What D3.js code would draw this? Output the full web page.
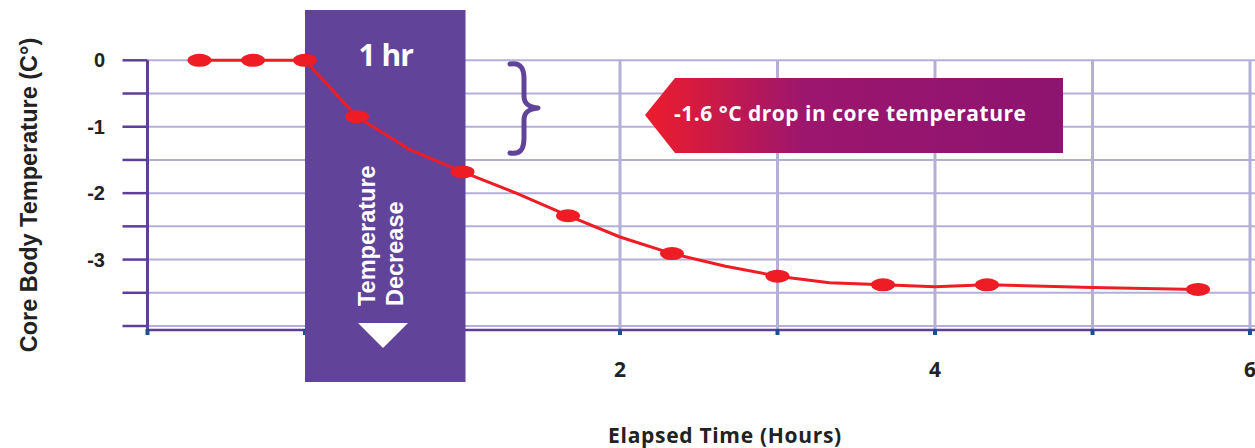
<!DOCTYPE html>
<html>
<head>
<meta charset="utf-8">
<script src="https://cdn.jsdelivr.net/npm/d3@7"></script>
<style>
  html, body { margin: 0; padding: 0; background: #fff; }
  svg { display: block; }
</style>
</head>
<body>
<div id="chart"></div>
<script>
// elapsed time (hours) and change in core temperature (°C)
const hours = [-0.67, -0.33, 0, 0.33, 0.67, 1.0, 1.33, 1.67, 2.0, 2.33, 2.67, 3.0, 3.33, 3.67, 4.0, 4.33, 5.0, 5.67];
const temps = [0, 0, 0, -0.85, -1.35, -1.68, -1.99, -2.34, -2.66, -2.91, -3.1, -3.25, -3.35, -3.38, -3.41, -3.38, -3.42, -3.45];
const marked = [1, 1, 1, 1, 0, 1, 0, 1, 0, 1, 0, 1, 0, 1, 0, 1, 0, 1];

const yTicks = [0, -0.5, -1, -1.5, -2, -2.5, -3, -3.5, -4];
const yLabels = [0, -1, -2, -3];
const xTicks = [-1, 0, 1, 2, 3, 4, 5, 6];
const xLabels = [2, 4, 6];
const xGrid = [2, 3, 4, 5, 6];

const width = 1255, height = 448;
const purple = '#5e3f98', grid = '#b4afd8', red = '#ee1c25';
const roundFont = '"Open Sans", Lato, sans-serif';
const plainFont = '"Liberation Sans", Arial, sans-serif';

const svg = d3.select('#chart').append('svg')
    .attr('width', width)
    .attr('height', height);

const x = d3.scaleLinear().domain([-1, 6]).range([147.5, 1250]);
const y = d3.scaleLinear().domain([0, -4]).range([60.3, 326]);

const defs = svg.append('defs');
const grad = defs.append('linearGradient').attr('id', 'callout-grad')
    .attr('x1', '0%').attr('x2', '100%').attr('y1', '0%').attr('y2', '0%');
grad.append('stop').attr('offset', '0%').attr('stop-color', '#ee1c2c');
grad.append('stop').attr('offset', '38%').attr('stop-color', '#9c166e');
grad.append('stop').attr('offset', '100%').attr('stop-color', '#8d1470');

// horizontal grid
svg.append('g').selectAll('line')
    .data(yTicks)
    .join('line')
    .attr('x1', x(-1)).attr('x2', width)
    .attr('y1', d => y(d)).attr('y2', d => y(d))
    .attr('stroke', grid).attr('stroke-width', 2);

// vertical grid
svg.append('g').selectAll('line')
    .data(xGrid)
    .join('line')
    .attr('x1', d => x(d)).attr('x2', d => x(d))
    .attr('y1', y(0)).attr('y2', y(-4) + 4)
    .attr('stroke', grid).attr('stroke-width', 3);

// y axis
svg.append('line')
    .attr('x1', x(-1)).attr('x2', x(-1))
    .attr('y1', y(0)).attr('y2', y(-4) + 9)
    .attr('stroke', purple).attr('stroke-width', 3);
svg.append('g').selectAll('line')
    .data(yTicks)
    .join('line')
    .attr('x1', x(-1) - 25).attr('x2', x(-1))
    .attr('y1', d => y(d)).attr('y2', d => y(d))
    .attr('stroke', purple).attr('stroke-width', 2.5);
svg.append('g').selectAll('text')
    .data(yLabels)
    .join('text')
    .attr('x', 105)
    .attr('y', d => y(d) + 7)
    .attr('text-anchor', 'end')
    .attr('font-family', plainFont)
    .attr('font-weight', 'bold')
    .attr('font-size', 20)
    .attr('fill', '#222')
    .text(d => d);

// x axis
svg.append('line')
    .attr('x1', x(-1)).attr('x2', width)
    .attr('y1', y(-4) + 4).attr('y2', y(-4) + 4)
    .attr('stroke', purple).attr('stroke-width', 2.5);
svg.append('g').selectAll('rect')
    .data(xTicks)
    .join('rect')
    .attr('x', d => x(d) - 2)
    .attr('y', y(-4) + 3)
    .attr('width', 4).attr('height', 6)
    .attr('fill', '#1d4e96');
svg.append('g').selectAll('text')
    .data(xLabels)
    .join('text')
    .attr('x', d => x(d))
    .attr('y', 377)
    .attr('text-anchor', 'middle')
    .attr('font-family', roundFont)
    .attr('font-weight', 'bold')
    .attr('font-size', 21)
    .attr('fill', '#222')
    .text(d => d);

// 1 hour band
svg.append('rect')
    .attr('x', x(0)).attr('y', 10)
    .attr('width', x(1) - x(0) + 3).attr('height', 372)
    .attr('fill', '#61449a');
svg.append('text')
    .attr('x', (x(0) + x(1)) / 2 + 2)
    .attr('y', 66)
    .attr('text-anchor', 'middle')
    .attr('font-family', roundFont)
    .attr('font-weight', 'bold')
    .attr('font-size', 30)
    .attr('letter-spacing', -1)
    .attr('fill', '#fff')
    .text('1 hr');
const band = svg.append('text')
    .attr('transform', 'translate(375,306) rotate(-90)')
    .attr('font-family', plainFont)
    .attr('font-weight', 'bold')
    .attr('font-size', 23.5)
    .attr('fill', '#fff');
band.append('tspan').attr('x', 0).attr('y', 0).text('Temperature');
band.append('tspan').attr('x', 0).attr('y', 28).text('Decrease');
svg.append('path')
    .attr('d', 'M358,323 L408,323 L383,348 Z')
    .attr('fill', '#fff');

// brace
svg.append('path')
    .attr('d', 'M510,64 C521,62 524,69 524,79 L524,96 C524,104 529,107 538,108 C529,109 524,112 524,120 L524,138 C524,148 521,155 510,153')
    .attr('fill', 'none')
    .attr('stroke', '#61449a')
    .attr('stroke-width', 5)
    .attr('stroke-linecap', 'round')
    .attr('stroke-linejoin', 'round');

// callout
svg.append('path')
    .attr('d', 'M645,115 L675,78 L1063,78 L1063,153 L675,153 Z')
    .attr('fill', 'url(#callout-grad)');
svg.append('text')
    .attr('x', 674)
    .attr('y', 121)
    .attr('font-family', roundFont)
    .attr('font-weight', 'bold')
    .attr('font-size', 21)
    .attr('letter-spacing', 0.5)
    .attr('fill', '#fff')
    .text('-1.6 °C drop in core temperature');

// temperature line
const pts = hours.map((h, i) => ({h: h, t: temps[i], m: marked[i]}));
const line = d3.line()
    .x(d => x(d.h))
    .y(d => y(d.t));
svg.append('path')
    .datum(pts)
    .attr('d', line)
    .attr('fill', 'none')
    .attr('stroke', red)
    .attr('stroke-width', 3)
    .attr('stroke-linejoin', 'round');
svg.append('g').selectAll('ellipse')
    .data(pts.filter(d => d.m))
    .join('ellipse')
    .attr('cx', d => x(d.h))
    .attr('cy', d => y(d.t))
    .attr('rx', 12).attr('ry', 6.5)
    .attr('fill', red);

// axis titles
svg.append('text')
    .attr('transform', 'translate(37,195) rotate(-90)')
    .attr('text-anchor', 'middle')
    .attr('font-family', plainFont)
    .attr('font-weight', 'bold')
    .attr('font-size', 23.5)
    .attr('fill', '#222')
    .text('Core Body Temperature (C°)');
svg.append('text')
    .attr('x', 725)
    .attr('y', 443)
    .attr('text-anchor', 'middle')
    .attr('font-family', roundFont)
    .attr('font-weight', 'bold')
    .attr('font-size', 21)
    .attr('letter-spacing', 0.7)
    .attr('fill', '#222')
    .text('Elapsed Time (Hours)');
</script>
</body>
</html>
